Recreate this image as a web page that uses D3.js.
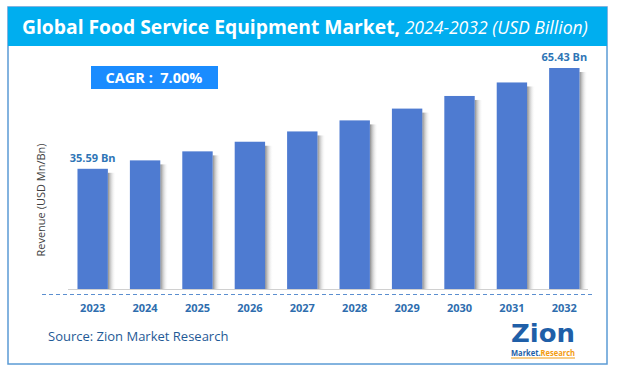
<!DOCTYPE html>
<html>
<head>
<meta charset="utf-8">
<script src="https://cdn.jsdelivr.net/npm/d3@7"></script>
<style>
  body { margin: 0; background: #fff; }
  svg { display: block; font-family: "Open Sans", "Noto Sans", sans-serif; }
</style>
</head>
<body>
<svg id="chart" width="617" height="375"></svg>
<script>
// data
const years = ['2023', '2024', '2025', '2026', '2027', '2028', '2029', '2030', '2031', '2032'];
const revenue = [35.59, 38.08, 40.75, 43.6, 46.65, 49.92, 53.41, 57.15, 61.15, 65.43];
const shownLabels = { '2023': '35.59 Bn', '2032': '65.43 Bn' };
const cagrText = 'CAGR :  7.00%';

const svg = d3.select('#chart');

// shadow to the right of bars
const defs = svg.append('defs');
const grad = defs.append('linearGradient').attr('id', 'shade');
grad.append('stop').attr('offset', '0%').attr('stop-color', '#7f7f7f').attr('stop-opacity', 0.9);
grad.append('stop').attr('offset', '100%').attr('stop-color', '#ffffff').attr('stop-opacity', 0);

// frame + title bar
svg.append('rect')
    .attr('x', 8).attr('y', 7).attr('width', 599).attr('height', 357)
    .attr('fill', '#fff').attr('stroke', '#5b9bd5').attr('stroke-width', 1.5);
svg.append('rect')
    .attr('x', 8).attr('y', 7).attr('width', 599).attr('height', 39)
    .attr('fill', '#00aeef');

const title = svg.append('text')
    .attr('x', 22).attr('y', 34)
    .attr('fill', '#fff');
title.append('tspan').attr('font-weight', 'bold').style('font-size', '19.3px')
    .text('Global Food Service Equipment Market,');
title.append('tspan').attr('font-style', 'italic').style('font-size', '17.6px')
    .text(' 2024-2032 (USD Billion)');

// scales
const x = d3.scaleBand().domain(years).range([67, 590]).paddingInner(0.42).paddingOuter(0.2);
const y = d3.scaleLinear().domain([0, 65.43]).range([289, 68]);

const g = svg.append('g');

// shadows
g.selectAll('.shadow')
    .data(years)
    .join('rect')
    .attr('class', 'shadow')
    .attr('x', d => x(d) + x.bandwidth())
    .attr('y', (d, i) => y(revenue[i]) + 4)
    .attr('width', 8)
    .attr('height', (d, i) => y(0) - y(revenue[i]) - 4)
    .attr('fill', 'url(#shade)');

g.selectAll('.bar')
    .data(years)
    .join('rect')
    .attr('class', 'bar')
    .attr('x', d => x(d))
    .attr('y', (d, i) => y(revenue[i]))
    .attr('width', x.bandwidth())
    .attr('height', (d, i) => y(0) - y(revenue[i]))
    .attr('fill', '#4e7bd1');

// baseline + dashed axis
svg.append('line')
    .attr('x1', 68).attr('x2', 588).attr('y1', 289.5).attr('y2', 289.5)
    .attr('stroke', '#d0d0d0').attr('stroke-width', 1);
svg.append('line')
    .attr('x1', 42).attr('x2', 592).attr('y1', 294.5).attr('y2', 294.5)
    .attr('stroke', '#5b8fd0').attr('stroke-width', 1).attr('stroke-dasharray', '4,3');

const xAxis = svg.append('g')
    .attr('transform', 'translate(0,294)')
    .call(d3.axisBottom(x).tickSize(0).tickPadding(10));
xAxis.select('.domain').remove();
xAxis.selectAll('text')
    .attr('fill', '#2e6dae')
    .style('font-size', '11px')
    .style('font-weight', 'bold')
    .style('font-family', '"Open Sans", sans-serif');

// value labels
g.selectAll('.val')
    .data(years.filter(d => shownLabels[d]))
    .join('text')
    .attr('class', 'val')
    .attr('x', d => x(d) + x.bandwidth() / 2)
    .attr('y', d => y(revenue[years.indexOf(d)]) - 7)
    .attr('text-anchor', 'middle')
    .attr('fill', '#2e75b6')
    .style('font-size', '11px')
    .style('font-weight', 'bold')
    .text(d => shownLabels[d]);

// CAGR box
svg.append('rect')
    .attr('x', 91).attr('y', 66).attr('width', 127).attr('height', 23)
    .attr('fill', '#1a8cff');
svg.append('text')
    .attr('x', 154).attr('y', 83)
    .attr('text-anchor', 'middle')
    .attr('fill', '#fff')
    .style('font-size', '14.5px')
    .style('font-weight', 'bold')
    .attr('xml:space', 'preserve')
    .text(cagrText);

// y axis title
svg.append('text')
    .attr('transform', 'translate(45,200) rotate(-90)')
    .attr('text-anchor', 'middle')
    .attr('fill', '#404040')
    .style('font-size', '11px')
    .text('Revenue (USD Mn/Bn)');

// source
svg.append('text')
    .attr('x', 48).attr('y', 341)
    .attr('fill', '#1f5a96')
    .style('font-size', '13px')
    .text('Source: Zion Market Research');

// logo (text approximation)
const logo = svg.append('g');
logo.append('text')
    .attr('x', 511).attr('y', 342)
    .attr('fill', '#1f5fa8')
    .style('font-size', '24px')
    .style('font-weight', 'bold')
    .style('font-family', '"DejaVu Sans", sans-serif')
    .attr('textLength', 64)
    .attr('lengthAdjust', 'spacingAndGlyphs')
    .text('Zion');
logo.append('text')
    .attr('x', 511).attr('y', 356)
    .style('font-size', '8px')
    .style('font-weight', 'bold')
    .attr('textLength', 64)
    .attr('lengthAdjust', 'spacingAndGlyphs')
    .call(t => {
        t.append('tspan').attr('fill', '#1f5fa8').text('Market.');
        t.append('tspan').attr('fill', '#f39c12').text('Research');
    });
logo.append('line')
    .attr('x1', 511).attr('x2', 575).attr('y1', 358).attr('y2', 358)
    .attr('stroke', '#f39c12').attr('stroke-width', 1);
</script>
</body>
</html>
